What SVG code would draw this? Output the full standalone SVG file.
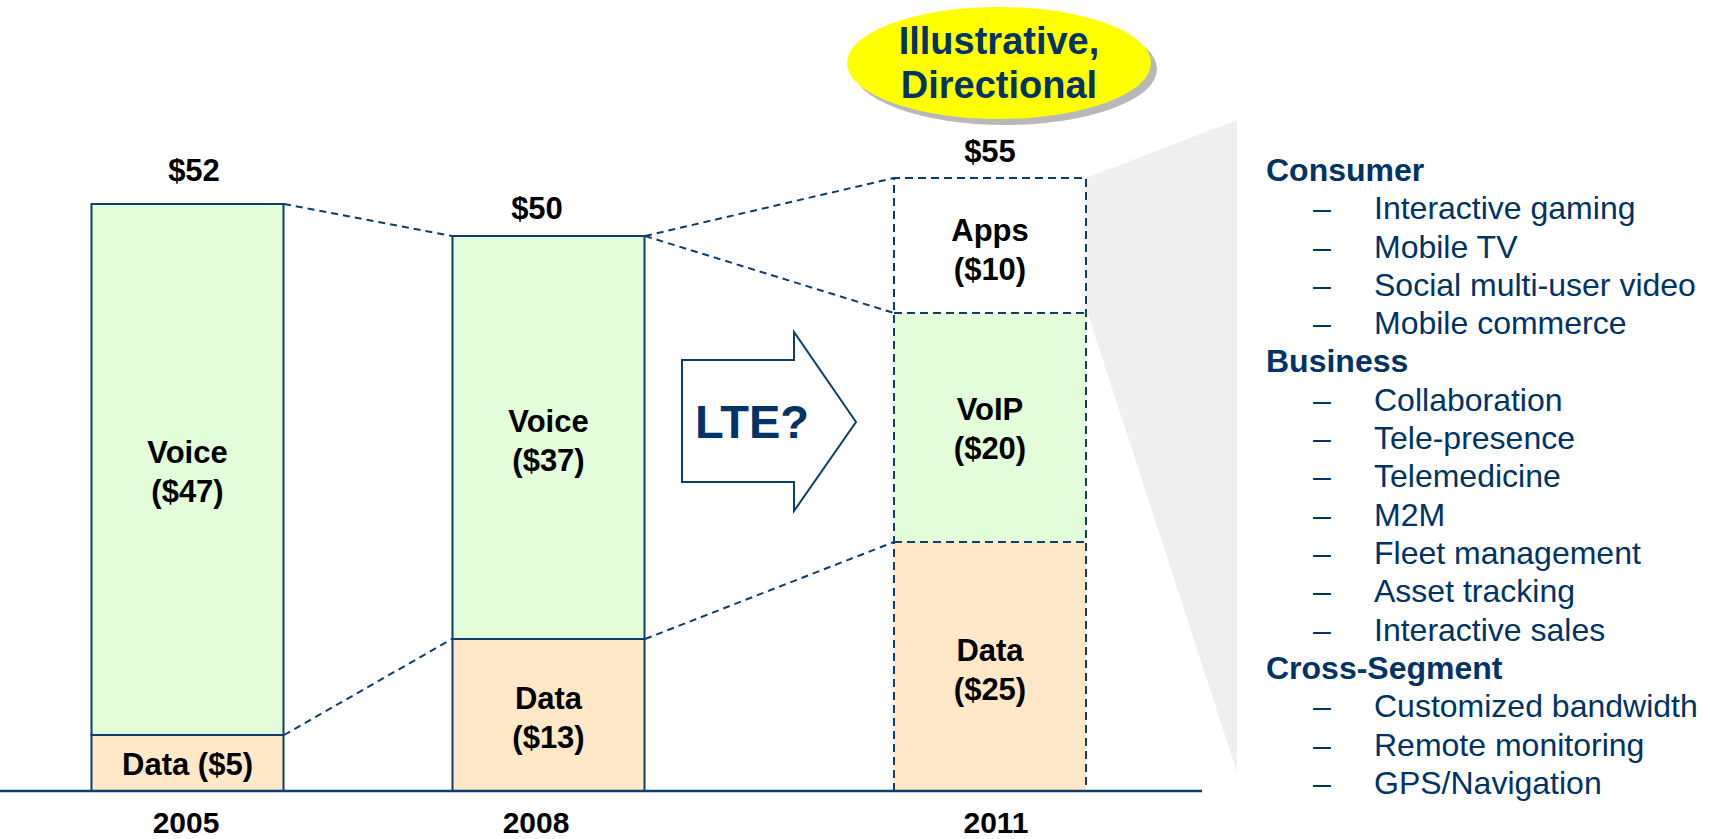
<svg xmlns="http://www.w3.org/2000/svg" width="1710" height="839" viewBox="0 0 1710 839">
  <style>
    .lbl { font-family: "Liberation Sans", Arial, sans-serif; font-weight: bold; font-size: 31px; fill: #000; text-anchor: middle; }
    .yr { font-family: "Liberation Sans", Arial, sans-serif; font-weight: bold; font-size: 30px; fill: #000; text-anchor: middle; }
    .voice { fill: #e3fcd9; stroke: #0e3f6c; stroke-width: 2; }
    .data { fill: #fee8c8; stroke: #0e3f6c; stroke-width: 2; }
    .dashseg { stroke: #0e3f6c; stroke-width: 2; stroke-dasharray: 8 5; }
    .conn { stroke: #0e3f6c; stroke-width: 2; stroke-dasharray: 7 5; fill: none; }
    .head { font-family: "Liberation Sans", Arial, sans-serif; font-weight: bold; font-size: 32px; fill: #003366; }
    .item { font-family: "Liberation Sans", Arial, sans-serif; font-size: 32px; fill: #003366; }
  </style>

  <!-- callout wedge behind the list -->
  <polygon id="wedge" points="1086,178 1237,120 1237,772 1086,308" fill="#efefef"/>

  <!-- badge -->
  <g id="badge">
    <ellipse cx="1005" cy="69" rx="152" ry="56" fill="#b8b8b8"/>
    <ellipse cx="999" cy="63" rx="152" ry="56" fill="#ffff00"/>
    <text x="999" y="54" text-anchor="middle" font-family="Liberation Sans, Arial, sans-serif" font-weight="bold" font-size="38" fill="#003366">Illustrative,</text>
    <text x="999" y="98" text-anchor="middle" font-family="Liberation Sans, Arial, sans-serif" font-weight="bold" font-size="38" fill="#003366">Directional</text>
  </g>

  <!-- connectors between bars -->
  <g id="connectors">
    <line class="conn" x1="284" y1="204" x2="452" y2="236"/>
    <line class="conn" x1="284" y1="735" x2="452" y2="639"/>
    <line class="conn" x1="645" y1="236" x2="894" y2="178"/>
    <line class="conn" x1="645" y1="236" x2="894" y2="313"/>
    <line class="conn" x1="645" y1="639" x2="894" y2="542"/>
  </g>

  <!-- 2005 bar -->
  <g id="bar2005">
    <rect class="voice" x="91.5" y="204" width="192" height="531"/>
    <rect class="data" x="91.5" y="735" width="192" height="56"/>
    <text class="lbl" x="194" y="181">$52</text>
    <text class="lbl" x="187.5" y="463">Voice</text>
    <text class="lbl" x="187.5" y="502">($47)</text>
    <text class="lbl" x="187.5" y="775">Data ($5)</text>
    <text class="yr" x="186" y="833">2005</text>
  </g>

  <!-- 2008 bar -->
  <g id="bar2008">
    <rect class="voice" x="452.5" y="236" width="192" height="403"/>
    <rect class="data" x="452.5" y="639" width="192" height="152"/>
    <text class="lbl" x="537" y="219">$50</text>
    <text class="lbl" x="548.5" y="432">Voice</text>
    <text class="lbl" x="548.5" y="471">($37)</text>
    <text class="lbl" x="548.5" y="709">Data</text>
    <text class="lbl" x="548.5" y="748">($13)</text>
    <text class="yr" x="536" y="833">2008</text>
  </g>

  <!-- LTE arrow -->
  <g id="lte">
    <polygon points="682,360 794,360 794,332 856,422 794,511 794,482 682,482" fill="#fff" stroke="#0e3f6c" stroke-width="2"/>
    <text x="752" y="438" text-anchor="middle" font-family="Liberation Sans, Arial, sans-serif" font-weight="bold" font-size="47" fill="#003366">LTE?</text>
  </g>

  <!-- 2011 bar -->
  <g id="bar2011">
    <rect x="894" y="178" width="192" height="135" fill="#fff"/>
    <rect x="894" y="313" width="192" height="229" fill="#e3fcd9"/>
    <rect x="894" y="542" width="192" height="249" fill="#fee8c8"/>
    <path class="dashseg" fill="none" d="M894,791 V178 H1086 V791 M894,313 H1086 M894,542 H1086"/>
    <text class="lbl" x="990" y="162">$55</text>
    <text class="lbl" x="990" y="241">Apps</text>
    <text class="lbl" x="990" y="280">($10)</text>
    <text class="lbl" x="990" y="420">VoIP</text>
    <text class="lbl" x="990" y="459">($20)</text>
    <text class="lbl" x="990" y="661">Data</text>
    <text class="lbl" x="990" y="700">($25)</text>
    <text class="yr" x="996" y="833">2011</text>
  </g>

  <!-- baseline axis -->
  <line id="axis" x1="0" y1="791" x2="1202" y2="791" stroke="#0e3f6c" stroke-width="2.5"/>

  <!-- application list -->
  <g id="apps-list">
    <text class="head" x="1266" y="181">Consumer</text>
    <text class="item" x="1313" y="219">–</text><text class="item" x="1374" y="219">Interactive gaming</text>
    <text class="item" x="1313" y="258">–</text><text class="item" x="1374" y="258">Mobile TV</text>
    <text class="item" x="1313" y="296">–</text><text class="item" x="1374" y="296">Social multi-user video</text>
    <text class="item" x="1313" y="334">–</text><text class="item" x="1374" y="334">Mobile commerce</text>
    <text class="head" x="1266" y="372">Business</text>
    <text class="item" x="1313" y="411">–</text><text class="item" x="1374" y="411">Collaboration</text>
    <text class="item" x="1313" y="449">–</text><text class="item" x="1374" y="449">Tele-presence</text>
    <text class="item" x="1313" y="487">–</text><text class="item" x="1374" y="487">Telemedicine</text>
    <text class="item" x="1313" y="526">–</text><text class="item" x="1374" y="526">M2M</text>
    <text class="item" x="1313" y="564">–</text><text class="item" x="1374" y="564">Fleet management</text>
    <text class="item" x="1313" y="602">–</text><text class="item" x="1374" y="602">Asset tracking</text>
    <text class="item" x="1313" y="641">–</text><text class="item" x="1374" y="641">Interactive sales</text>
    <text class="head" x="1266" y="679">Cross-Segment</text>
    <text class="item" x="1313" y="717">–</text><text class="item" x="1374" y="717">Customized bandwidth</text>
    <text class="item" x="1313" y="756">–</text><text class="item" x="1374" y="756">Remote monitoring</text>
    <text class="item" x="1313" y="794">–</text><text class="item" x="1374" y="794">GPS/Navigation</text>
  </g>
</svg>
